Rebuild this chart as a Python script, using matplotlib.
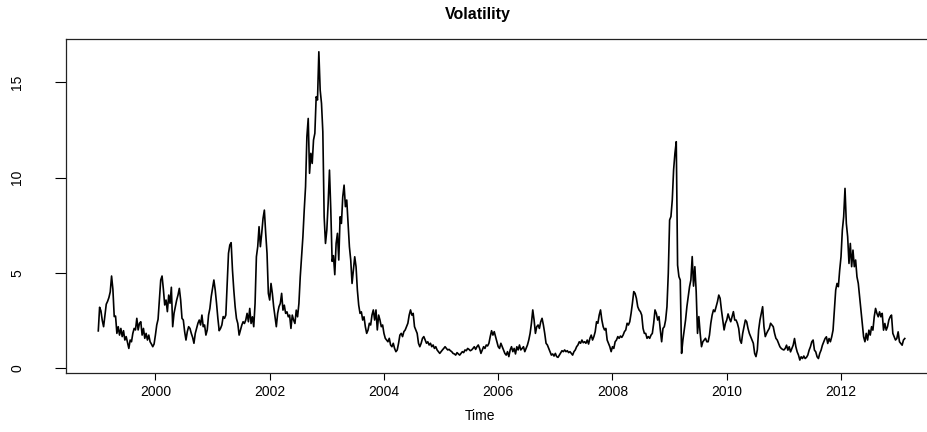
import numpy as np
import matplotlib.pyplot as plt

plt.rcParams['font.family'] = ['Liberation Sans', 'DejaVu Sans']

# weekly-ish volatility series, regular time grid starting 1999
start_year = 1999.0
freq = 43

vol = [
    1.95, 3.19, 3.00, 2.50, 2.17, 2.78, 3.35, 3.50, 3.70, 4.00, 4.83, 4.13,
    2.70, 2.73, 1.82, 2.17, 1.73, 2.08, 1.65, 1.96, 1.47, 1.65, 1.33, 1.03,
    1.47, 1.38, 1.82, 2.08, 2.00, 2.61, 2.00, 2.35, 2.43, 1.73, 2.08, 1.56,
    1.82, 1.47, 1.73, 1.38, 1.26, 1.12, 1.26, 1.73, 2.26, 2.56, 3.57, 4.62,
    4.83, 4.13, 3.31, 3.57, 2.96, 3.83, 3.40, 4.24,
    2.17, 2.87, 3.22, 3.57, 3.83, 4.18, 3.57, 2.61, 2.52, 1.91, 1.47, 1.91,
    2.17, 2.08, 1.82, 1.61, 1.30, 1.82, 2.08, 2.35, 2.52, 2.26, 2.78, 2.17,
    2.26, 1.73, 2.00, 2.78, 3.13, 3.75, 4.18, 4.62, 4.10, 3.40, 2.61, 1.96,
    2.08, 2.26, 2.70, 2.61, 2.78, 4.36, 6.02, 6.46, 6.58,
    # 2001.35 - 2003.7
    5.14, 4.09, 3.22, 2.60, 2.34, 1.73, 1.99, 2.25, 2.43, 2.34, 2.52, 2.87,
    2.43, 3.13, 2.34, 2.69, 2.17, 3.39, 5.84, 6.37, 7.42, 6.37, 7.07, 7.85,
    8.29, 7.07, 6.02, 3.92, 3.57, 4.44, 3.92, 3.22, 2.69, 2.17, 2.87, 3.22,
    3.39, 3.92, 3.04, 3.30, 2.87, 2.95, 2.69, 2.78, 2.08, 2.78, 2.52, 2.34,
    3.04, 2.69, 3.39, 4.79, 5.84, 6.89, 8.29, 9.52, 12.14, 13.10, 10.22, 11.27,
    10.74, 11.97, 12.32, 14.24, 14.07, 16.60, 14.59, 13.89, 12.40, 7.94, 6.54, 7.24,
    8.64, 10.39, 8.29, 5.60, 5.90, 4.90, 6.54, 7.07, 5.67, 7.94, 7.59, 8.99,
    9.60, 8.47, 8.82, 7.59, 6.37, 5.67, 4.44, 5.14, 5.84, 5.32, 4.09, 3.30,
    2.87, 2.95, 2.52, 2.69, 2.17, 1.82, 1.99,
    # 2003.75 - 2006.1
    2.35, 2.26, 2.78, 3.05, 2.52, 3.05, 2.00, 2.78, 2.52, 2.17, 2.26, 1.82,
    1.56, 1.47, 1.38, 1.56, 1.21, 1.12, 1.30, 1.03, 0.86, 0.95, 1.30, 1.73,
    1.82, 1.65, 1.91, 2.00, 2.17, 2.35, 2.78, 3.05, 2.78, 2.87, 2.17, 2.00,
    1.82, 1.30, 1.12, 1.30, 1.56, 1.65, 1.47, 1.30, 1.38, 1.21, 1.30, 1.12,
    1.21, 1.03, 1.12, 0.95, 0.86, 0.77, 0.86, 0.95, 1.03, 1.12, 1.03, 0.95,
    0.98, 0.91, 0.86, 0.77, 0.74, 0.68, 0.81, 0.74, 0.68, 0.77, 0.86, 0.81,
    0.95, 0.91, 1.03, 0.98, 0.91, 0.95, 1.03, 1.12, 0.98, 1.12, 1.21, 1.03,
    0.77, 0.95, 1.12, 1.03, 1.21, 1.16, 1.30, 1.65, 1.96, 1.73, 1.91, 1.65,
    1.38, 1.12, 1.03, 1.30, 1.12, 0.95, 0.77, 0.68,
    # 2006.15 - 2008.55
    0.86, 0.60, 0.95, 1.12, 0.86, 1.03, 0.74, 1.12, 0.95, 1.21, 0.95, 1.03,
    1.12, 0.86, 1.03, 1.21, 1.47, 1.82, 2.35, 3.05, 2.52, 1.82, 2.17, 2.26,
    2.08, 2.43, 2.61, 2.26, 1.82, 1.30, 1.21, 1.03, 0.86, 0.68, 0.74, 0.63,
    0.77, 0.60, 0.56, 0.68, 0.81, 0.91, 0.86, 0.95, 0.86, 0.91, 0.81, 0.86,
    0.77, 0.68, 0.86, 0.95, 1.12, 1.21, 1.38, 1.30, 1.47, 1.33, 1.38, 1.30,
    1.47, 1.26, 1.56, 1.73, 1.47, 1.65, 1.91, 2.43, 2.35, 2.78, 3.05, 2.52,
    2.17, 2.00, 2.08, 1.47, 1.30, 1.12, 0.86, 1.12, 1.03, 1.38, 1.47, 1.65,
    1.56, 1.68, 1.61, 1.73, 1.91, 2.00, 2.35, 2.26, 2.43, 2.87, 3.40, 4.01,
    3.92, 3.66, 3.22, 3.05, 2.96, 2.78, 2.08, 1.82,
    # 2008.6 - 2011.0
    1.82, 1.56, 1.65, 1.56, 1.73, 1.82, 2.35, 3.05, 2.87, 2.52, 2.70, 2.00,
    1.38, 2.08, 2.17, 2.52, 3.22, 4.97, 7.77, 7.95, 8.82, 10.40, 11.27, 11.88,
    5.40, 4.80, 4.62, 0.77, 1.47, 2.00, 2.52, 3.22, 3.74, 4.27, 4.62, 5.85,
    4.30, 5.32, 4.01, 1.82, 2.70, 1.82, 1.12, 1.38, 1.47, 1.56, 1.38, 1.38,
    1.73, 2.35, 2.78, 3.05, 2.96, 3.22, 3.48, 3.83, 3.66, 3.05, 2.52, 2.00,
    2.35, 2.52, 2.84, 2.61, 2.43, 2.70, 2.96, 2.52, 2.52, 2.35, 2.08, 1.47,
    1.30, 1.82, 2.17, 2.52, 2.43, 2.08, 1.82, 1.65, 1.47, 1.30, 0.77, 0.60,
    0.95, 2.00, 2.52, 2.87, 3.22, 2.17, 1.65, 1.82, 1.96, 2.08, 2.35, 2.26,
    2.17, 1.82, 1.56, 1.47, 1.30, 1.12, 1.03, 0.98, 0.95,
    # 2011.0 - 2013.1
    1.03, 1.20, 0.94, 1.12, 0.85, 1.03, 1.20, 1.55, 1.12, 0.85, 0.68, 0.42,
    0.59, 0.50, 0.63, 0.50, 0.56, 0.68, 0.94, 1.12, 1.38, 1.47, 0.94, 0.85,
    0.59, 0.50, 0.77, 0.94, 1.20, 1.38, 1.55, 1.64, 1.29, 1.55, 1.38, 1.64,
    1.99, 3.04, 4.09, 4.44, 4.27, 5.14, 5.84, 7.24, 7.94, 9.43, 7.59, 6.89,
    5.49, 6.54, 5.32, 6.19, 5.32, 5.67, 4.79, 4.44, 3.74, 3.04, 2.34, 1.64,
    1.38, 1.82, 1.47, 1.99, 1.73, 2.17, 1.99, 2.69, 3.13, 2.87, 2.69, 2.95,
    2.69, 2.87, 1.99, 2.34, 1.99, 2.17, 2.52, 2.69, 2.78, 1.82, 1.64, 1.47,
    1.55, 1.90, 1.38, 1.29, 1.20, 1.47, 1.55,
]

years = start_year + np.arange(len(vol)) / freq

W, H = 928, 432
fig = plt.figure(figsize=(W / 100, H / 100), dpi=100)
ax = fig.add_axes([66 / W, (H - 373) / H, 871 / W, 334 / H])

ax.plot(years, vol, color='black', lw=1.2)

ax.set_xlim(1998.435, 2013.68)
ax.set_ylim(-0.26, 17.27)
ax.set_xticks(range(2000, 2013, 2))
ax.set_yticks([0, 5, 10, 15])

for s in ax.spines.values():
    s.set_linewidth(0.9)
    s.set_color('#222222')

ax.tick_params(axis='x', direction='out', length=5, width=0.8, pad=4, labelsize=10)
ax.tick_params(axis='y', direction='out', length=8, width=0.8, pad=22, labelsize=10)
for lab in ax.get_yticklabels():
    lab.set_rotation(90)
    lab.set_va('center')

fig.text(478 / W, 1 - 14 / H, 'Volatility', ha='center', va='center',
         fontsize=11.5, fontweight='bold')
fig.text(480 / W, 1 - 416 / H, 'Time', ha='center', va='center', fontsize=10)

fig.savefig('out.png', dpi=100)
